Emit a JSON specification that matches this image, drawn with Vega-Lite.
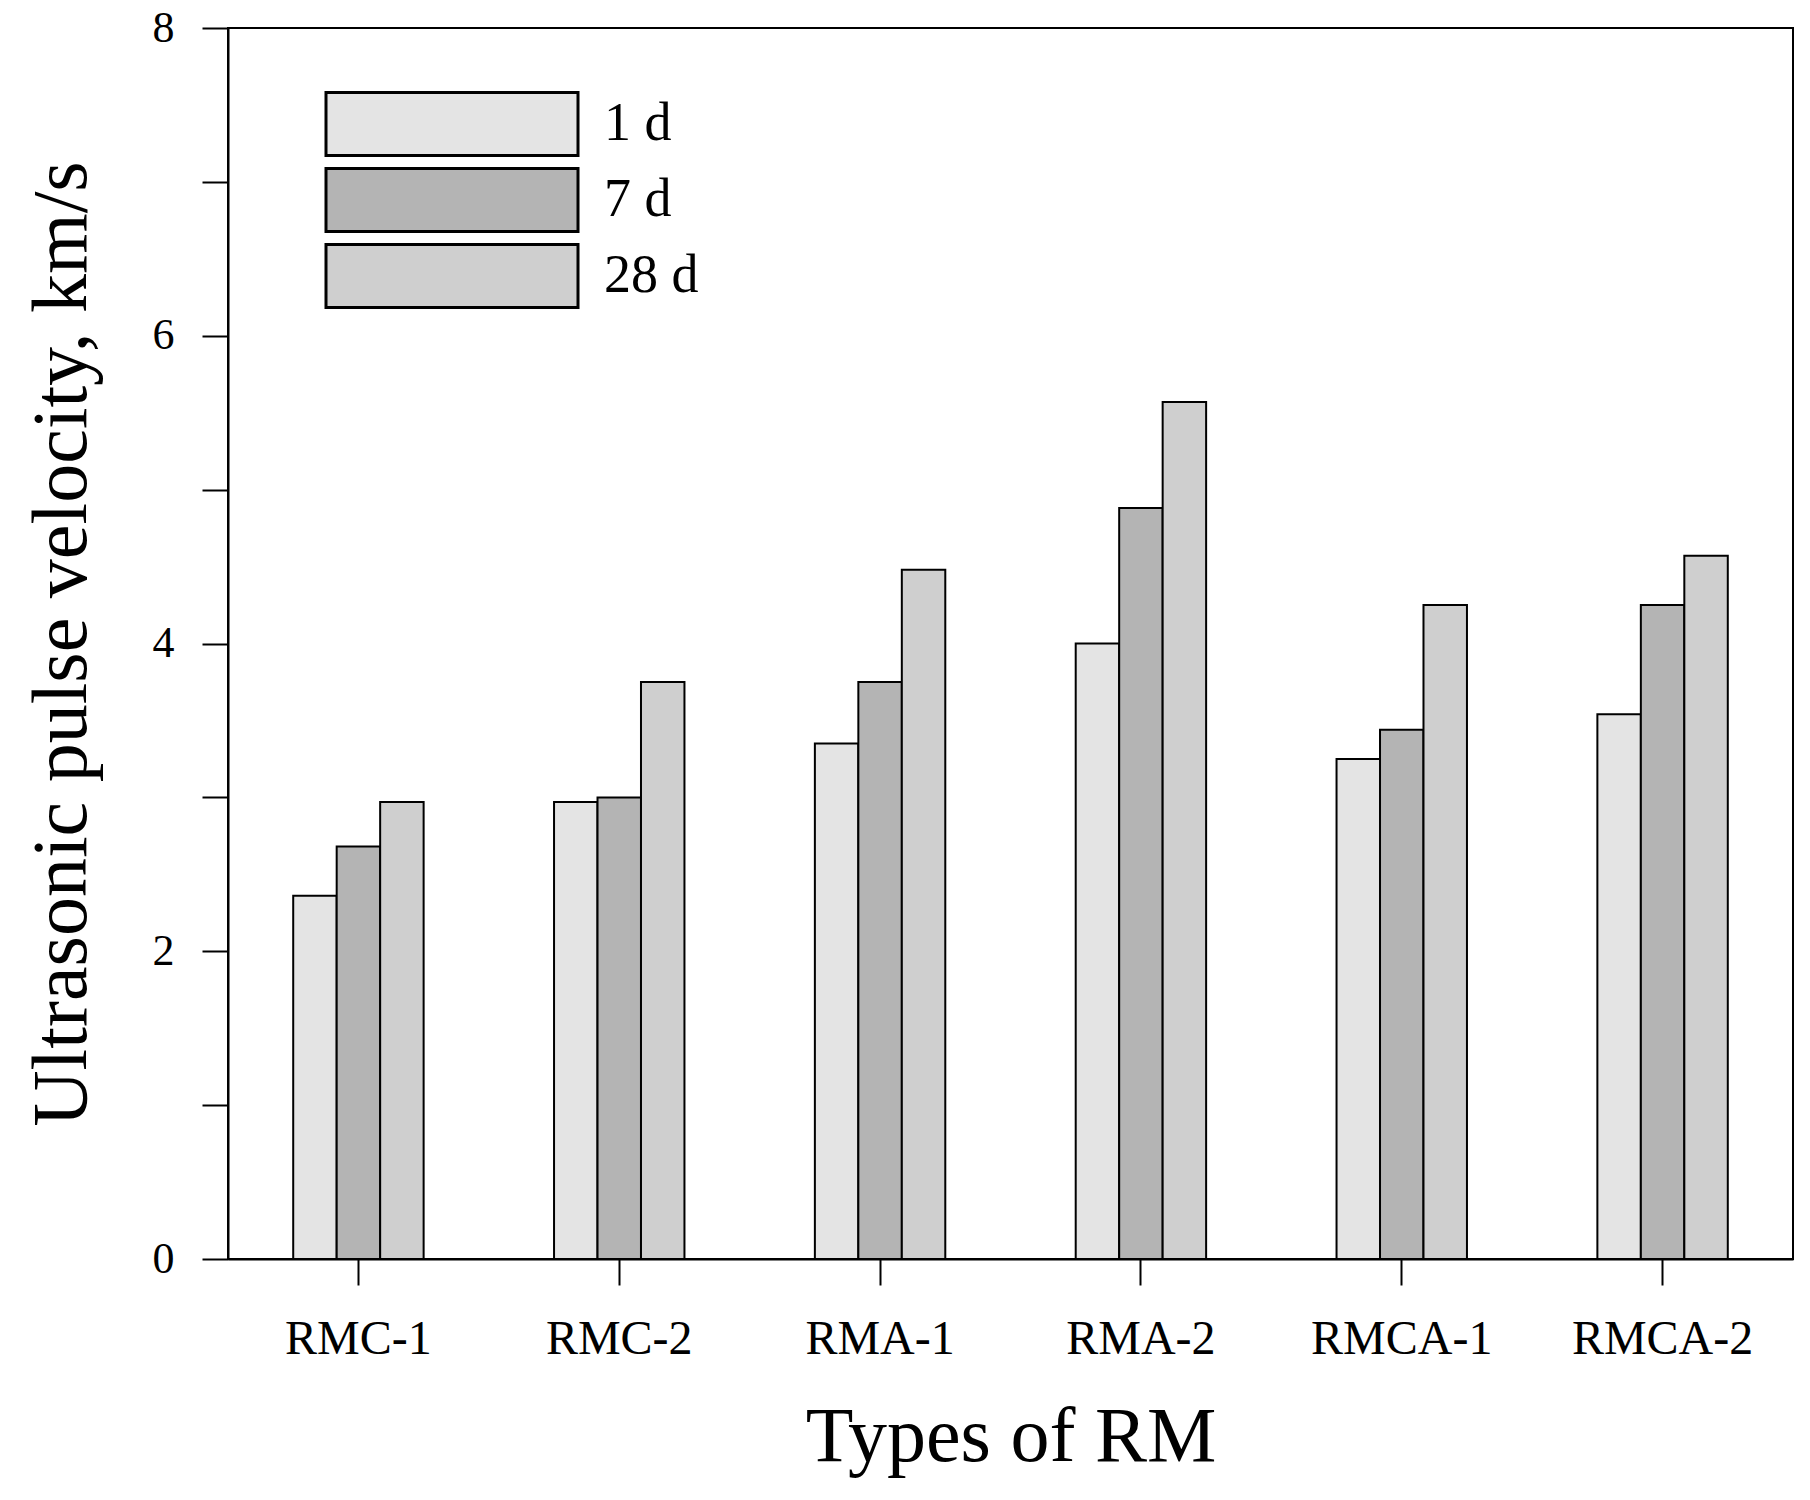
{
  "$schema": "https://vega.github.io/schema/vega-lite/v6.json",
  "width": 1565,
  "height": 1231,
  "autosize": "none",
  "padding": {"left": 228, "top": 28, "right": 17, "bottom": 241},
  "background": "white",
  "data": {
    "values": [
      {"type": "RMC-1", "age": "1 d", "upv": 2.36},
      {"type": "RMC-1", "age": "7 d", "upv": 2.68},
      {"type": "RMC-1", "age": "28 d", "upv": 2.97},
      {"type": "RMC-2", "age": "1 d", "upv": 2.97},
      {"type": "RMC-2", "age": "7 d", "upv": 3.0},
      {"type": "RMC-2", "age": "28 d", "upv": 3.75},
      {"type": "RMA-1", "age": "1 d", "upv": 3.35},
      {"type": "RMA-1", "age": "7 d", "upv": 3.75},
      {"type": "RMA-1", "age": "28 d", "upv": 4.48},
      {"type": "RMA-2", "age": "1 d", "upv": 4.0},
      {"type": "RMA-2", "age": "7 d", "upv": 4.88},
      {"type": "RMA-2", "age": "28 d", "upv": 5.57},
      {"type": "RMCA-1", "age": "1 d", "upv": 3.25},
      {"type": "RMCA-1", "age": "7 d", "upv": 3.44},
      {"type": "RMCA-1", "age": "28 d", "upv": 4.25},
      {"type": "RMCA-2", "age": "1 d", "upv": 3.54},
      {"type": "RMCA-2", "age": "7 d", "upv": 4.25},
      {"type": "RMCA-2", "age": "28 d", "upv": 4.57}
    ]
  },
  "mark": {"type": "bar", "stroke": "black", "strokeWidth": 2, "opacity": 1},
  "encoding": {
    "x": {
      "field": "type",
      "type": "nominal",
      "sort": ["RMC-1", "RMC-2", "RMA-1", "RMA-2", "RMCA-1", "RMCA-2"],
      "scale": {"paddingInner": 0.5, "paddingOuter": 0.25},
      "axis": {
        "title": "Types of RM",
        "labelAngle": 0,
        "labelFontSize": 48,
        "labelPadding": 30,
        "labelLimit": 0,
        "titleFontSize": 78,
        "titleY": 201,
        "titleBaseline": "alphabetic"
      }
    },
    "xOffset": {
      "field": "age",
      "type": "nominal",
      "sort": ["1 d", "7 d", "28 d"],
      "scale": {"paddingInner": 0, "paddingOuter": 0}
    },
    "y": {
      "field": "upv",
      "type": "quantitative",
      "scale": {"domain": [0, 8], "nice": false},
      "axis": {
        "title": "Ultrasonic pulse velocity, km/s",
        "values": [0, 1, 2, 3, 4, 5, 6, 7, 8],
        "labelExpr": "datum.value % 2 === 0 ? datum.label : ''",
        "labelFontSize": 44,
        "labelPadding": 28,
        "titleFontSize": 78,
        "titleX": -143,
        "titleBaseline": "alphabetic",
        "grid": false
      }
    },
    "fill": {
      "field": "age",
      "type": "nominal",
      "sort": ["1 d", "7 d", "28 d"],
      "scale": {"domain": ["1 d", "7 d", "28 d"], "range": ["#e4e4e4", "#b4b4b4", "#cfcfcf"]},
      "legend": {
        "title": null,
        "orient": "none",
        "legendX": 191,
        "legendY": 63,
        "padding": 0,
        "symbolType": "M-4,-1H4V1H-4Z",
        "symbolSize": 3969,
        "symbolStrokeColor": "black",
        "symbolStrokeWidth": 3,
        "symbolOpacity": 1,
        "labelFontSize": 54,
        "labelOffset": 119,
        "rowPadding": 0,
        "labelColor": "black",
        "labelFont": "Liberation Serif"
      }
    }
  },
  "config": {
    "font": "Liberation Serif",
    "view": {"stroke": "black", "strokeWidth": 2},
    "axis": {
      "domainColor": "black",
      "domainWidth": 2,
      "tickColor": "black",
      "tickWidth": 2,
      "tickSize": 26,
      "labelColor": "black",
      "titleColor": "black",
      "labelFont": "Liberation Serif",
      "titleFont": "Liberation Serif",
      "titleFontWeight": "normal"
    },
    "legend": {"labelFont": "Liberation Serif"}
  }
}
